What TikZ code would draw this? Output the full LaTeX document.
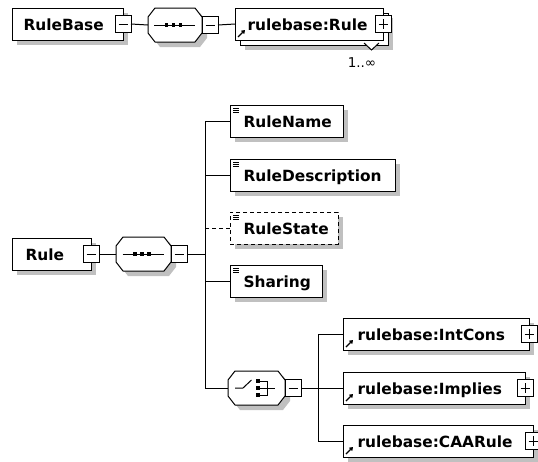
\documentclass[tikz,border=0pt]{standalone}
\usepackage{fontspec}
\usetikzlibrary{shadows,arrows.meta}
\newfontfamily\diagfont{DejaVu Sans}
\definecolor{shadegray}{RGB}{192,192,192}
% octagonal compositor outline drawn around a named (invisible) node
\newcommand\compositor[1]{%
  \draw[fill=white,shd] ([xshift=7pt]#1.north west) -- ([xshift=-7pt]#1.north east)
    -- ([yshift=-9pt]#1.north east) -- ([yshift=9pt]#1.south east)
    -- ([xshift=-7pt]#1.south east) -- ([xshift=7pt]#1.south west)
    -- ([yshift=9pt]#1.south west) -- ([yshift=-9pt]#1.north west) -- cycle;}

\begin{document}
\begin{tikzpicture}[x=1pt,y=-1pt,line width=1pt,
  shd/.style={drop shadow={shadow xshift=5pt,shadow yshift=-5pt,opacity=1,fill=shadegray,draw=none}},
  plainbox/.style={draw,fill=white,rectangle,inner sep=0pt,outer sep=0pt,minimum height=32pt,anchor=north west},
  elbox/.style={plainbox,shd},
  optbox/.style={elbox,dash pattern=on 4pt off 3pt},
  octbox/.style={rectangle,minimum width=54pt,minimum height=34pt,inner sep=0pt,outer sep=0pt},
  pmbox/.style={draw,fill=white,rectangle,minimum width=16pt,minimum height=17pt,inner sep=0pt,outer sep=0pt},
  minus/.style={pmbox,path picture={\draw[line width=1pt]
      ([xshift=3.5pt]path picture bounding box.west) -- ([xshift=-3.5pt]path picture bounding box.east);}},
  plus/.style={pmbox,path picture={\draw[line width=1pt]
      ([xshift=3.5pt]path picture bounding box.west) -- ([xshift=-3.5pt]path picture bounding box.east)
      ([yshift=-3.5pt]path picture bounding box.north) -- ([yshift=3.5pt]path picture bounding box.south);}},
  lbl/.style={font=\diagfont\bfseries\fontsize{15.4pt}{18pt}\selectfont,anchor=base west,inner sep=0pt},
  elicon/.pic={\draw[line width=0.8pt] (3,3) -- (9,3) (3,5.2) -- (9,5.2) (3,7.4) -- (9,7.4);},
  reficon/.pic={\draw[line width=1.3pt,-{Triangle[length=3.5pt,width=4.5pt]}] (3,-3) -- (10,-10);},
  seqicon/.pic={\draw (-21,0) -- (20,0);
    \foreach \d in {-8.5,-1.5,5.5} \fill (\d-1.8,-1.8) rectangle (\d+1.8,1.8);},
  choiceicon/.pic={\draw (-21.5,0) -- (-13.5,0) -- (-5,-8);
    \foreach \e in {-7,0,7} \fill (-0.5,\e-2) rectangle (3.5,\e+2);
    \draw (3.5,-7) -- (10.5,-7) -- (10.5,7) -- (3.5,7) (3.5,0) -- (18.5,0);}
]
\fill[white] (0,0) rectangle (538,461);
\useasboundingbox (0,0) rectangle (538,461);
\clip (0,0) rectangle (538,461);

% ---------- RuleBase ----------
\node[elbox,minimum width=111pt] (rulebase) at (12,8) {};
\node[lbl] (rulebase-t) at ([shift={(11pt,-6pt)}]rulebase.west) {RuleBase};
\node[minus] (rulebase-m) at (rulebase.east) {};
\node[octbox] (seq1) at (175,25) {};
\compositor{seq1}
\pic at (seq1.center) {seqicon};
\node[minus,anchor=west] (seq1-m) at (seq1.east) {};

% stacked reference with multiplicity 1..infinity
\node[elbox,minimum width=148pt] (ruleref-back) at (240,13) {};
\node[plainbox,minimum width=148pt] (ruleref) at (235,8) {};
\pic at (ruleref.south west) {reficon};
\node[lbl] (ruleref-t) at ([shift={(12pt,-6pt)}]ruleref.west) {rulebase:Rule};
\node[plus] (ruleref-p) at (ruleref.east) {};
\draw[fill=white] (364,43) -- (371.5,50) -- (379,43);
\node[font=\diagfont\fontsize{13.5pt}{15pt}\selectfont,inner sep=0pt] (mult) at (362,63) {1..∞};

\draw (rulebase-m.east) -- (seq1.west);
\draw (seq1-m.east) -- (ruleref.west);

% ---------- Rule ----------
\node[elbox,minimum width=79pt] (rule) at (12,238) {};
\node[lbl] (rule-t) at ([shift={(13pt,-6pt)}]rule.west) {Rule};
\node[minus] (rule-m) at (rule.east) {};
\node[octbox,minimum width=55pt] (seq2) at (143.5,254) {};
\compositor{seq2}
\pic at (seq2.center) {seqicon};
\node[minus,anchor=west] (seq2-m) at (seq2.east) {};
\coordinate (trunk) at (205,254);

% child elements
\node[elbox,minimum width=113pt] (rulename) at (230,105) {};
\pic at (rulename.north west) {elicon};
\node[lbl] (rulename-t) at ([shift={(13pt,-6pt)}]rulename.west) {RuleName};

\node[elbox,minimum width=165pt] (ruledesc) at (230,159) {};
\pic at (ruledesc.north west) {elicon};
\node[lbl] (ruledesc-t) at ([shift={(13pt,-6pt)}]ruledesc.west) {RuleDescription};

\node[optbox,minimum width=108pt] (rulestate) at (230,212) {};
\pic at (rulestate.north west) {elicon};
\node[lbl] (rulestate-t) at ([shift={(13pt,-6pt)}]rulestate.west) {RuleState};

\node[elbox,minimum width=92pt] (sharing) at (230,265) {};
\pic at (sharing.north west) {elicon};
\node[lbl] (sharing-t) at ([shift={(13pt,-6pt)}]sharing.west) {Sharing};

% choice group
\node[octbox,minimum width=57pt] (choice) at (256.5,388) {};
\compositor{choice}
\pic at (choice.center) {choiceicon};
\node[minus,anchor=west] (choice-m) at (choice.east) {};
\coordinate (cbranch) at (318,388);

\node[elbox,minimum width=186pt] (intcons) at (343,318) {};
\pic at (intcons.south west) {reficon};
\node[lbl] (intcons-t) at ([shift={(14pt,-6pt)}]intcons.west) {rulebase:IntCons};
\node[plus] (intcons-p) at (intcons.east) {};

\node[elbox,minimum width=182pt] (implies) at (343,372) {};
\pic at (implies.south west) {reficon};
\node[lbl] (implies-t) at ([shift={(14pt,-6pt)}]implies.west) {rulebase:Implies};
\node[plus] (implies-p) at (implies.east) {};

\node[elbox,minimum width=190pt] (caarule) at (343,425) {};
\pic at (caarule.south west) {reficon};
\node[lbl] (caarule-t) at ([shift={(14pt,-6pt)}]caarule.west) {rulebase:CAARule};
\node[plus] (caarule-p) at (caarule.east) {};

% connectors
\draw (rule-m.east) -- (seq2.west);
\draw (seq2-m.east) -- (trunk);
\draw (trunk) |- (rulename.west);
\draw (trunk) |- (ruledesc.west);
\draw (trunk) |- (sharing.west);
\draw (trunk) |- (choice.west);
\draw[dash pattern=on 4pt off 3pt] (rulestate.west) -- (rulestate.west -| trunk);
\draw (choice-m.east) -- (cbranch);
\draw (cbranch) |- (intcons.west);
\draw (cbranch) -- (implies.west);
\draw (cbranch) |- (caarule.west);
\end{tikzpicture}
\end{document}
